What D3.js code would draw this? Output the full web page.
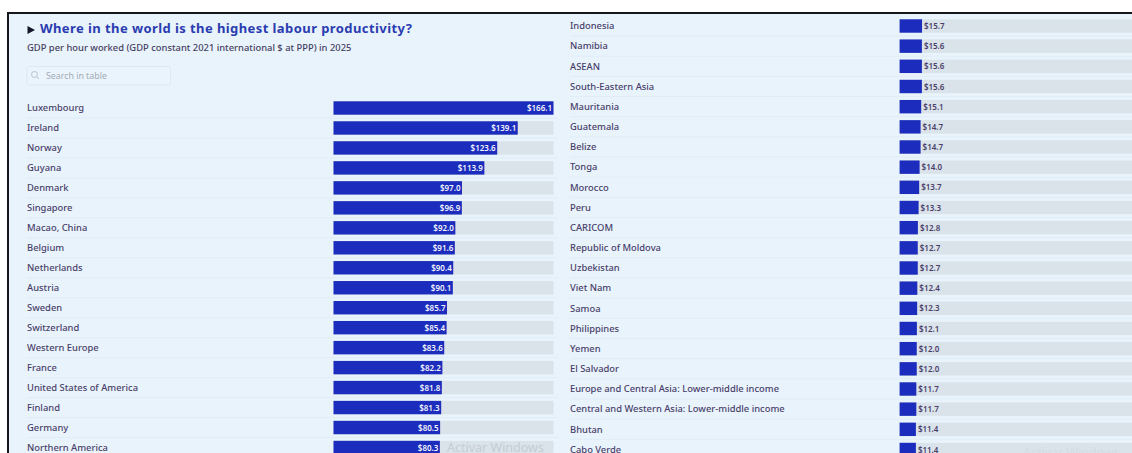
<!DOCTYPE html>
<html>
<head>
<meta charset="utf-8">
<script src="https://cdn.jsdelivr.net/npm/d3@7"></script>
<style>
  html, body { margin: 0; padding: 0; background: #fff; overflow: hidden; }
  svg { display: block; }
  text { font-family: "Noto Sans", sans-serif; }
</style>
</head>
<body>
<svg id="chart" width="1132" height="453"></svg>
<script>
// Labour productivity table, split across two columns
const leftCountries = ["Luxembourg", "Ireland", "Norway", "Guyana", "Denmark", "Singapore", "Macao, China", "Belgium", "Netherlands", "Austria", "Sweden", "Switzerland", "Western Europe", "France", "United States of America", "Finland", "Germany", "Northern America"];
const leftValues = [166.1, 139.1, 123.6, 113.9, 97.0, 96.9, 92.0, 91.6, 90.4, 90.1, 85.7, 85.4, 83.6, 82.2, 81.8, 81.3, 80.5, 80.3];
const rightCountries = ["Indonesia", "Namibia", "ASEAN", "South-Eastern Asia", "Mauritania", "Guatemala", "Belize", "Tonga", "Morocco", "Peru", "CARICOM", "Republic of Moldova", "Uzbekistan", "Viet Nam", "Samoa", "Philippines", "Yemen", "El Salvador", "Europe and Central Asia: Lower-middle income", "Central and Western Asia: Lower-middle income", "Bhutan", "Cabo Verde"];
const rightValues = [15.7, 15.6, 15.6, 15.6, 15.1, 14.7, 14.7, 14.0, 13.7, 13.3, 12.8, 12.7, 12.7, 12.4, 12.3, 12.1, 12.0, 12.0, 11.7, 11.7, 11.4, 11.4];
const domainMax = 166.1;
const titleText = "Where in the world is the highest labour productivity?";
const subtitleText = "GDP per hour worked (GDP constant 2021 international $ at PPP) in 2025";
const searchText = "Search in table";
const watermarkText = "Activar Windows";

const svg = d3.select("#chart");
const money = d3.format("$.1f");

// Panel background and its top/left rule
svg.append("rect").attr("x", 8).attr("y", 13).attr("width", 1124).attr("height", 440).attr("fill", "#e8f3fc");
svg.append("rect").attr("x", 7).attr("y", 12).attr("width", 1125).attr("height", 2).attr("fill", "#16161c");
svg.append("rect").attr("x", 7).attr("y", 12).attr("width", 2).attr("height", 441).attr("fill", "#16161c");

// Heading block
svg.append("path").attr("d", "M27.5,26 L35,30 L27.5,34 Z").attr("fill", "#15152a");
svg.append("text").attr("x", 40).attr("y", 32.5).attr("fill", "#2b3cb0")
  .attr("font-size", 13).attr("font-weight", 700).attr("letter-spacing", 0.42).text(titleText);
svg.append("text").attr("x", 27).attr("y", 51).attr("fill", "#47405f")
  .attr("font-size", 9.4).attr("font-weight", 500).text(subtitleText);

// Search field
svg.append("rect").attr("x", 27).attr("y", 66.5).attr("width", 143.5).attr("height", 18.5).attr("rx", 2)
  .attr("fill", "#eaf4fd").attr("stroke", "#dde8f2");
svg.append("circle").attr("cx", 34.5).attr("cy", 74.5).attr("r", 3).attr("fill", "none").attr("stroke", "#b9c2cc");
svg.append("line").attr("x1", 36.7).attr("y1", 76.7).attr("x2", 39).attr("y2", 79).attr("stroke", "#b9c2cc");
svg.append("text").attr("x", 46).attr("y", 79).attr("fill", "#a3abb6").attr("font-size", 8.8).text(searchText);

// One column of rows: label, track, bar and value
function drawColumn(cfg) {
  const x = d3.scaleLinear().domain([0, domainMax]).range([cfg.barLeft, cfg.barRight]);
  const y = d3.scalePoint().domain(cfg.names).range([cfg.firstY, cfg.lastY]);
  const rows = svg.append("g").selectAll("g")
    .data(cfg.names.map((name, i) => ({ name, value: cfg.values[i] })))
    .join("g").attr("transform", d => `translate(0,${y(d.name)})`);

  rows.append("line").attr("x1", cfg.labelX).attr("x2", cfg.ruleEnd).attr("y1", 10).attr("y2", 10).attr("stroke", "#e0ecf6");
  rows.append("text").attr("x", cfg.labelX).attr("y", 3.3).attr("fill", "#4a3f6a")
    .attr("font-size", 9.4).attr("font-weight", 500).text(d => d.name);
  rows.append("rect").attr("x", cfg.barLeft).attr("y", -6.7).attr("height", 13.4)
    .attr("width", x(domainMax) - cfg.barLeft).attr("fill", "#dae3ea");
  rows.append("rect").attr("x", cfg.barLeft).attr("y", -6.7).attr("height", 13.4)
    .attr("width", d => x(d.value) - cfg.barLeft).attr("fill", "#1c2dbd");
  rows.append("text")
    .attr("x", d => d.value > 40 ? x(d.value) - 1.5 : x(d.value) + 2)
    .attr("y", 3)
    .attr("text-anchor", d => d.value > 40 ? "end" : "start")
    .attr("fill", d => d.value > 40 ? "#f2f4fc" : "#4a3f6a")
    .attr("font-size", 8).attr("font-weight", 600).text(d => money(d.value));
}

drawColumn({ names: leftCountries, values: leftValues, labelX: 27, ruleEnd: 558, barLeft: 333.5, barRight: 553.5, firstY: 108, lastY: 447.5 });
drawColumn({ names: rightCountries, values: rightValues, labelX: 570, ruleEnd: 1132, barLeft: 899.6, barRight: 1137, firstY: 26, lastY: 449.5 });

// Faint system overlay text
svg.append("text").attr("x", 447).attr("y", 452).attr("fill", "#c5ccd3").attr("font-size", 12.5).text(watermarkText);
svg.append("text").attr("x", 1023).attr("y", 457).attr("fill", "#d4dbe2").attr("font-size", 12.5).text(watermarkText);
</script>
</body>
</html>
